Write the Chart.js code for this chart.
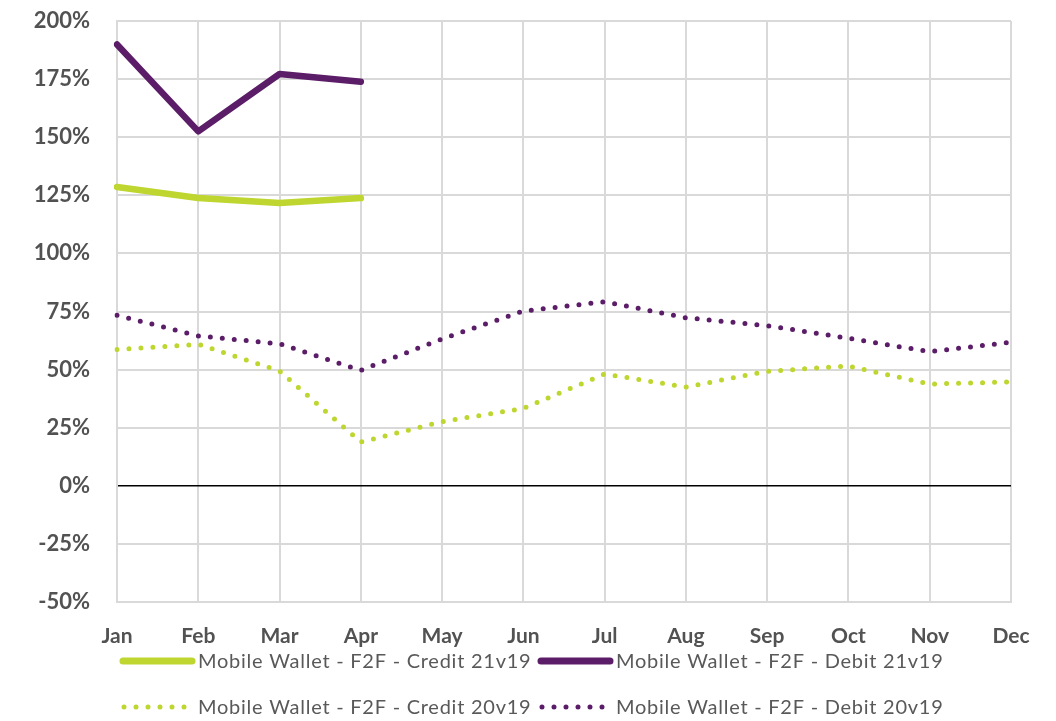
<!DOCTYPE html>
<html>
<head>
<meta charset="utf-8">
<script src="https://cdn.jsdelivr.net/npm/chart.js@4/dist/chart.umd.min.js"></script>
<style>
  html, body { margin: 0; padding: 0; background: #fff; }
  #wrap { position: relative; width: 1056px; height: 721px; }
</style>
</head>
<body>
<div id="wrap"><canvas id="chart"></canvas></div>
<script>
// Month categories
const months = ['Jan', 'Feb', 'Mar', 'Apr', 'May', 'Jun', 'Jul', 'Aug', 'Sep', 'Oct', 'Nov', 'Dec'];

// Growth vs 2019 (%), mobile wallet face-to-face spend
const credit21v19 = [128.6, 123.8, 121.7, 123.8];
const debit21v19  = [189.9, 152.5, 177.2, 173.9];
const credit20v19 = [58.6, 60.9, 49.4, 18.8, 27.6, 33.3, 48.1, 42.5, 49.3, 51.5, 43.8, 44.7];
const debit20v19  = [73.4, 64.5, 61.1, 49.7, 63.2, 75.2, 79.2, 72.3, 68.9, 63.5, 57.7, 61.8];

// Series names
const seriesNames = [
  'Mobile Wallet - F2F - Credit 21v19',
  'Mobile Wallet - F2F - Debit 21v19',
  'Mobile Wallet - F2F - Credit 20v19',
  'Mobile Wallet - F2F - Debit 20v19'
];

// Axis range (%)
const yMin = -50, yMax = 200, yStep = 25;

const GREEN = '#BED62F';
const PURPLE = '#5C1D68';
const TEXT = '#525252';
const GRID = '#D9D9D9';
const FONT = 'Lato, "Open Sans", sans-serif';

function solid(label, data, color) {
  return {
    label, data,
    borderColor: color, backgroundColor: color,
    borderWidth: 6.5, borderCapStyle: 'round', borderJoinStyle: 'round',
    pointRadius: 0, tension: 0, fill: false
  };
}
function dotted(label, data, color) {
  return {
    label, data,
    borderColor: color, backgroundColor: color,
    borderWidth: 5, borderDash: [0, 12], borderCapStyle: 'round', borderJoinStyle: 'round',
    pointRadius: 0, tension: 0, fill: false
  };
}

// Two-row legend drawn under the axis, one sample line plus label per series
const bottomLegend = {
  id: 'bottomLegend',
  afterDraw(chart) {
    const ctx = chart.ctx;
    const cols = [120, 538];
    const rows = [661, 707];
    ctx.save();
    ctx.font = '20px ' + FONT;
    ctx.letterSpacing = '0.75px';
    ctx.fillStyle = '#595959';
    ctx.textBaseline = 'middle';
    ctx.textAlign = 'left';
    chart.data.datasets.forEach((ds, i) => {
      const x = cols[i % 2];
      const y = rows[Math.floor(i / 2)];
      ctx.save();
      ctx.strokeStyle = ds.borderColor;
      ctx.lineCap = 'round';
      ctx.beginPath();
      if (ds.borderDash && ds.borderDash.length) {
        ctx.lineWidth = 5;
        ctx.setLineDash([0, 12]);
        ctx.moveTo(x + 4, y);
        ctx.lineTo(x + 66, y);
      } else {
        ctx.lineWidth = 7;
        ctx.moveTo(x + 3, y);
        ctx.lineTo(x + 72, y);
      }
      ctx.stroke();
      ctx.restore();
      ctx.fillText(ds.label, x + 78, y + 1);
    });
    ctx.restore();
  }
};

new Chart(document.getElementById('chart'), {
  type: 'line',
  data: {
    labels: months,
    datasets: [
      solid(seriesNames[0], credit21v19, GREEN),
      solid(seriesNames[1], debit21v19, PURPLE),
      dotted(seriesNames[2], credit20v19, GREEN),
      dotted(seriesNames[3], debit20v19, PURPLE)
    ]
  },
  options: {
    responsive: true,
    maintainAspectRatio: false,
    animation: false,
    layout: { padding: { left: 0, top: 21, right: 45, bottom: 0 } },
    plugins: {
      legend: { display: false },
      tooltip: { enabled: false },
      title: { display: false }
    },
    scales: {
      x: {
        offset: false,
        grid: { color: GRID, lineWidth: 2, drawTicks: false },
        border: { color: GRID, width: 2 },
        ticks: {
          color: TEXT,
          font: { family: FONT, size: 21, weight: 'bold' },
          padding: 22,
          maxRotation: 0,
          autoSkip: false
        },
        afterFit(scale) { scale.height = 119; }
      },
      y: {
        min: yMin, max: yMax,
        grid: {
          drawTicks: true,
          tickLength: 27,
          tickColor: 'rgba(0,0,0,0)',
          color: c => (c.tick && c.tick.value === 0 ? '#000000' : GRID),
          lineWidth: c => (c.tick && c.tick.value === 0 ? 1.5 : 2)
        },
        border: { color: GRID, width: 2 },
        ticks: {
          stepSize: yStep,
          color: TEXT,
          font: { family: FONT, size: 22, weight: 'bold' },
          padding: 0,
          callback: v => v + '%'
        },
        afterFit(scale) { scale.width = 117; }
      }
    }
  },
  plugins: [bottomLegend]
});
</script>
</body>
</html>
